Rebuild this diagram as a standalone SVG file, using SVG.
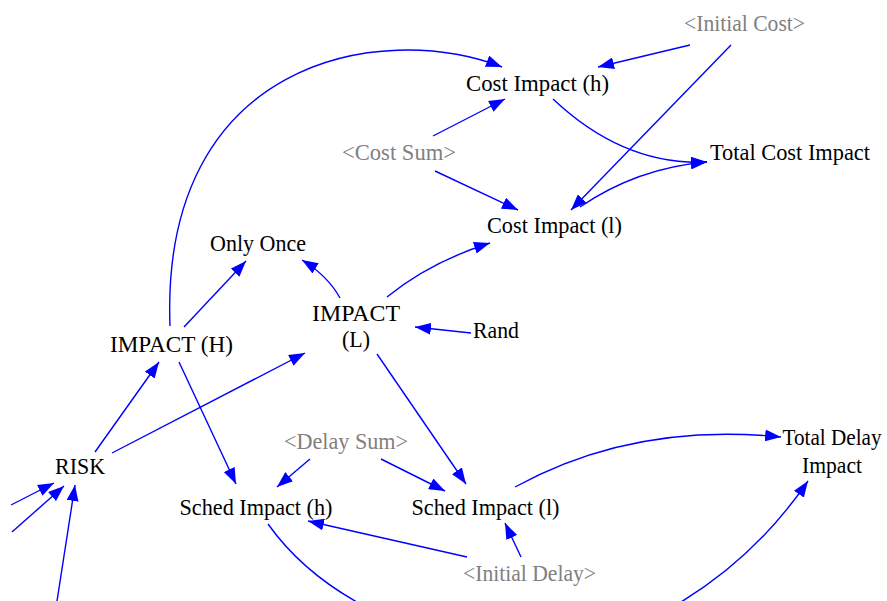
<svg xmlns="http://www.w3.org/2000/svg" width="887" height="601" viewBox="0 0 887 601">
<defs>
<marker id="ah" viewBox="0 0 16 12" refX="16" refY="6" markerWidth="16" markerHeight="12" markerUnits="userSpaceOnUse" orient="auto">
<path d="M0,0 L16,6 L0,12 z" fill="#0000ff"/>
</marker>
<style>
text{font-family:"Liberation Serif","Times New Roman",serif;font-size:24px;text-anchor:middle;fill:#000}
.g{fill:#808080}
#connectors path{fill:none;stroke:#0000ff;stroke-width:1.4}
#connectors .a{marker-end:url(#ah)}
</style>
</defs>
<rect width="887" height="601" fill="#fff"/>
<g id="connectors">
<path class="a" d="M690,45 L598,67"/>
<path class="a" d="M731,45 L571,210"/>
<path class="a" d="M433,136 L505,99"/>
<path class="a" d="M435,171 L518,210"/>
<path class="a" d="M553,99 Q624,166 707,162"/>
<path class="a" d="M580,207 Q637,168 707,162"/>
<path class="a" d="M170,326 C160,60 380,20 502,67"/>
<path class="a" d="M184,327 L246,261"/>
<path class="a" d="M340,298 Q328,276 302,260"/>
<path class="a" d="M387,297 Q430,262 490,243"/>
<path class="a" d="M471,333 L415,327"/>
<path class="a" d="M377,354 L466,484"/>
<path class="a" d="M179,362 L236,484"/>
<path class="a" d="M95,452 L159,362"/>
<path class="a" d="M112,453 L305,353"/>
<path class="a" d="M310,459 L277,487"/>
<path class="a" d="M381,459 L445,491"/>
<path class="a" d="M515,487 Q633,422 781,437"/>
<path class="a" d="M467,557 L308,521"/>
<path class="a" d="M521,557 L505,523"/>
<path class="a" d="M268,524 C315,590 410,645 525,648 C630,650 740,580 808,481"/>
<path class="a" d="M11,505 L54,483"/>
<path class="a" d="M12,532 L64,486"/>
<path class="a" d="M57,601 L75,485"/>
</g>
<g id="initial-cost"><text class="g" x="744.5" y="31" textLength="121" lengthAdjust="spacingAndGlyphs">&lt;Initial Cost&gt;</text></g>
<g id="cost-impact-h"><text x="537.5" y="91" textLength="143" lengthAdjust="spacingAndGlyphs">Cost Impact (h)</text></g>
<g id="cost-sum"><text class="g" x="399" y="160" textLength="114" lengthAdjust="spacingAndGlyphs">&lt;Cost Sum&gt;</text></g>
<g id="total-cost-impact"><text x="790" y="160" textLength="160" lengthAdjust="spacingAndGlyphs">Total Cost Impact</text></g>
<g id="cost-impact-l"><text x="554.5" y="233" textLength="135" lengthAdjust="spacingAndGlyphs">Cost Impact (l)</text></g>
<g id="only-once"><text x="258" y="251" textLength="96" lengthAdjust="spacingAndGlyphs">Only Once</text></g>
<g id="impact-l"><text x="356" y="321" textLength="88" lengthAdjust="spacingAndGlyphs">IMPACT</text><text x="356" y="347" textLength="28" lengthAdjust="spacingAndGlyphs">(L)</text></g>
<g id="rand"><text x="496" y="338" textLength="46" lengthAdjust="spacingAndGlyphs">Rand</text></g>
<g id="impact-h"><text x="171.5" y="352" textLength="123" lengthAdjust="spacingAndGlyphs">IMPACT (H)</text></g>
<g id="delay-sum"><text class="g" x="346" y="449" textLength="124" lengthAdjust="spacingAndGlyphs">&lt;Delay Sum&gt;</text></g>
<g id="total-delay-impact"><text x="832" y="445" textLength="99" lengthAdjust="spacingAndGlyphs">Total Delay</text><text x="832" y="473" textLength="60" lengthAdjust="spacingAndGlyphs">Impact</text></g>
<g id="risk"><text x="80" y="474" textLength="50" lengthAdjust="spacingAndGlyphs">RISK</text></g>
<g id="sched-impact-h"><text x="256" y="515" textLength="153" lengthAdjust="spacingAndGlyphs">Sched Impact (h)</text></g>
<g id="sched-impact-l"><text x="485.5" y="515" textLength="148" lengthAdjust="spacingAndGlyphs">Sched Impact (l)</text></g>
<g id="initial-delay"><text class="g" x="529.5" y="581" textLength="133" lengthAdjust="spacingAndGlyphs">&lt;Initial Delay&gt;</text></g>
</svg>
